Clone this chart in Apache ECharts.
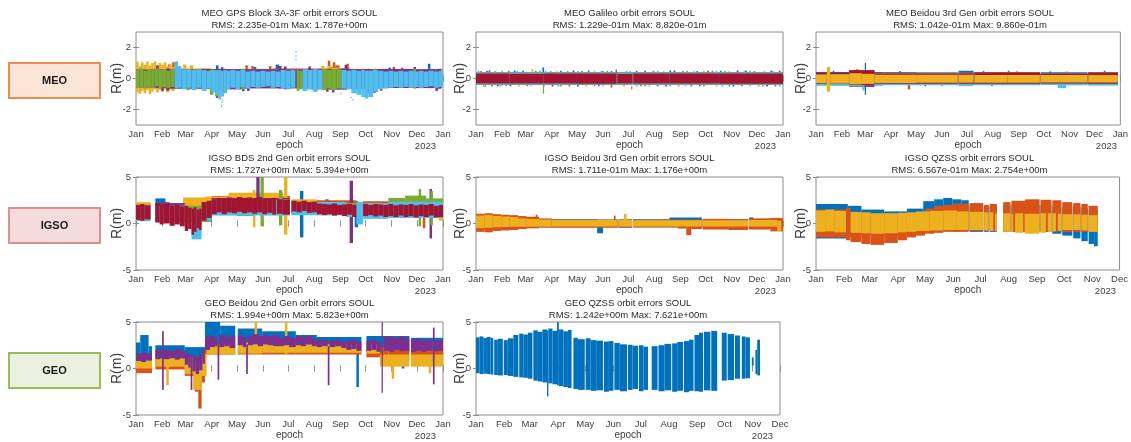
<!DOCTYPE html>
<html><head><meta charset="utf-8">
<script src="https://cdn.jsdelivr.net/npm/echarts@6/dist/echarts.min.js"></script>
<style>html,body{margin:0;padding:0;background:#fff}#c{width:1131px;height:442px}</style>
</head><body><div id="c"></div>
<script>
// ---- tick labels / categories ----
const monthStarts = [0,31,59,90,120,151,181,212,243,273,304,334,365];
const monthLabels = ['Jan','Feb','Mar','Apr','May','Jun','Jul','Aug','Sep','Oct','Nov','Dec','Jan'];
const yearLabel = '2023';
const yName = 'R(m)';
const groupLabels = ['MEO','IGSO','GEO'];
const titles = ['MEO GPS Block 3A-3F orbit errors SOUL','MEO Galileo orbit errors SOUL','MEO Beidou 3rd Gen orbit errors SOUL',
  'IGSO BDS 2nd Gen orbit errors SOUL','IGSO Beidou 3rd Gen orbit errors SOUL','IGSO QZSS orbit errors SOUL',
  'GEO Beidou 2nd Gen orbit errors SOUL','GEO QZSS orbit errors SOUL'];
const rmsLines = ['RMS: 2.235e-01m Max: 1.787e+00m','RMS: 1.229e-01m Max: 8.820e-01m','RMS: 1.042e-01m Max: 9.860e-01m',
  'RMS: 1.727e+00m Max: 5.394e+00m','RMS: 1.711e-01m Max: 1.176e+00m','RMS: 6.567e-01m Max: 2.754e+00m',
  'RMS: 1.994e+00m Max: 5.823e+00m','RMS: 1.242e+00m Max: 7.621e+00m'];

// ---- data: [startDay, endDay, low(m), high(m)] envelope segments, one array per satellite colour ----
// MEO GPS Block 3A-3F
const gps_blue = [[0,46,-0.5,0.55],[46,95,-0.6,0.6],[95,98,-0.5,0.85],[98,140,-0.6,0.58],[140,143,-0.5,0.75],[143,166,-0.6,0.6],[166,170,-0.5,0.9],[170,230,-0.6,0.6],[230,270,-0.65,0.62],[270,300,-0.6,0.58],[300,303,-0.5,0.7],[303,347,-0.6,0.6],[347,350,-0.5,0.95],[350,365,-0.6,0.62]];
const gps_orange = [[0,38,-0.55,0.6],[38,41,-0.6,0.9],[41,43,-0.55,0.65],[43,46,-0.55,1.05],[46,50,-0.6,0.75],[50,130,-0.62,0.62],[130,133,-0.6,0.85],[133,137,-0.6,0.62],[137,140,-0.6,0.8],[140,158,-0.6,0.62],[158,161,-0.6,0.8],[161,228,-0.62,0.64],[228,231,-0.62,1.15],[231,234,-0.6,0.75],[234,237,-0.65,1.05],[237,242,-0.6,0.85],[242,250,-0.6,0.66],[250,253,-0.6,0.95],[253,284,-0.62,0.62],[284,287,-0.85,0.62],[287,290,-0.62,0.6],[290,293,-0.8,0.62],[293,305,-0.6,0.6],[305,308,-0.6,0.75],[308,315,-0.6,0.62],[315,318,-0.6,0.7],[318,325,-0.6,0.62],[325,365,-0.58,0.62]];
const gps_yellow = [[0,3,-0.9,1.1],[3,6,-1.0,0.8],[6,9,-0.8,1.05],[9,12,-0.95,0.9],[12,15,-0.75,1.1],[15,18,-1.0,0.85],[18,21,-0.85,1.0],[21,24,-0.7,1.1],[24,27,-0.9,0.8],[27,30,-0.75,1.0],[30,33,-0.85,0.9],[33,36,-0.7,1.05],[36,39,-0.9,0.8],[39,42,-0.65,0.95],[42,46,-0.8,0.75],[46,52,-0.65,0.8],[52,56,-0.6,0.66],[56,60,-0.65,0.9],[60,64,-0.6,0.66],[64,68,-0.68,0.85],[68,72,-0.6,0.64],[72,90,-0.65,0.66],[90,150,-0.62,0.6],[150,220,-0.62,0.62],[220,224,-0.65,0.8],[224,228,-0.6,0.66],[228,232,-0.68,0.82],[232,242,-0.62,0.7],[242,365,-0.62,0.6]];
const gps_purple = [[0,24,-0.58,0.58],[24,27,-0.62,0.85],[27,30,-0.58,0.58],[30,33,-0.8,0.6],[33,36,-0.6,0.58],[36,40,-0.78,0.65],[40,95,-0.66,0.62],[95,98,-1.25,0.65],[98,101,-0.8,0.62],[101,104,-1.15,0.72],[104,108,-0.9,0.62],[108,126,-0.7,0.6],[126,129,-0.82,0.62],[129,132,-0.66,0.6],[132,135,-0.8,0.6],[135,170,-0.64,0.6],[170,173,-0.66,0.82],[173,176,-0.64,0.62],[176,179,-0.7,0.78],[179,205,-0.64,0.6],[205,208,-0.64,0.78],[208,226,-0.7,0.6],[226,229,-0.85,0.6],[229,233,-0.72,0.62],[233,236,-0.9,0.6],[236,248,-0.72,0.62],[248,251,-0.72,0.88],[251,254,-0.66,0.66],[254,275,-0.66,0.6],[275,278,-0.95,0.62],[278,282,-0.72,0.6],[282,285,-0.92,0.62],[285,330,-0.62,0.62],[330,333,-0.62,0.75],[333,356,-0.62,0.6],[356,359,-0.8,0.6],[359,363,-0.66,0.62]];
const gps_green = [[0,4,-0.6,0.55],[4,9,-0.55,0.65],[9,13,-0.65,0.5],[13,18,-0.55,0.6],[18,22,-0.6,0.55],[22,27,-0.5,0.65],[27,31,-0.65,0.55],[31,36,-0.55,0.6],[36,41,-0.6,0.5],[41,46,-0.55,0.6],[60,64,-0.75,0.6],[68,72,-0.7,0.62],[88,92,-1.05,0.58],[94,98,-1.15,0.55],[125,129,-0.72,0.62],[191,194,-0.8,0.55],[194,198,-0.7,0.5],[222,227,-0.75,0.62],[227,232,-0.65,0.55],[232,238,-0.75,0.62],[238,244,-0.65,0.6],[282,286,-0.7,0.6],[330,333,-0.65,0.62]];
const gps_lblue = [[46,50,-0.65,1.1],[50,54,-0.6,0.8],[54,60,-0.7,0.6],[60,66,-0.6,0.6],[66,72,-0.75,0.55],[72,78,-0.6,0.6],[78,84,-0.8,0.55],[84,90,-0.65,0.5],[90,94,-0.9,0.55],[94,98,-1.05,0.5],[98,101,-1.35,0.55],[101,104,-1.15,0.5],[104,108,-0.95,0.55],[108,112,-0.7,0.5],[112,118,-0.6,0.55],[118,124,-0.7,0.5],[124,130,-0.55,0.55],[130,136,-0.65,0.45],[136,142,-0.55,0.5],[142,148,-0.6,0.45],[148,154,-0.55,0.5],[154,160,-0.5,0.45],[160,166,-0.6,0.5],[166,172,-0.55,0.45],[172,178,-0.65,0.55],[178,184,-0.7,0.5],[184,189.5,-0.6,0.55],[198,204,-0.8,0.6],[204,210,-0.7,0.55],[210,216,-0.85,0.6],[216,222,-0.7,0.55],[244,250,-0.65,0.55],[250,256,-0.7,0.5],[256,262,-0.95,0.55],[262,268,-1.05,0.5],[268,272,-1.2,0.55],[272,276,-1.3,0.5],[276,282,-1.2,0.5],[282,288,-0.85,0.55],[288,294,-0.7,0.5],[294,300,-0.65,0.45],[300,306,-0.6,0.5],[306,312,-0.55,0.45],[312,318,-0.6,0.5],[318,324,-0.55,0.45],[324,330,-0.6,0.5],[330,336,-0.55,0.45],[336,342,-0.6,0.5],[342,348,-0.55,0.45],[348,354,-0.5,0.5],[354,360,-0.6,0.45],[360,365,-0.55,0.5],
  [101,102,-1.82,-1.72],[101.5,102.5,-1.58,-1.48],[102,103,-1.42,-1.34],[189.5,190.5,1.66,1.76],[189.5,190.5,1.42,1.5],[189.5,190.5,1.2,1.28],[243,244,-1.0,-0.92],[255,256,-1.25,-1.17],[257,258,-1.4,-1.32]];
// MEO Galileo
const gal_blue = [[0,167,-0.38,0.39],[168,186,-0.38,0.39],[187,365,-0.38,0.39],[12,14,-0.38,0.5],[45,47,-0.38,0.52],[70,72,-0.38,0.48],[79,81,-0.3,0.72],[100,102,-0.38,0.5],[133,135,-0.38,0.52],[160,162,-0.38,0.48],[200,202,-0.38,0.5],[230,232,-0.38,0.52],[262,264,-0.38,0.48],[290,292,-0.38,0.5],[320,322,-0.38,0.52],[350,352,-0.38,0.5],[25,27,-0.5,0.39],[120,122,-0.52,0.39],[215,217,-0.5,0.39],[305,307,-0.52,0.39]];
const gal_orange = [[0,167,-0.38,0.38],[168,186,-0.38,0.38],[187,365,-0.38,0.38],[5,7,-0.38,0.48],[38,40,-0.38,0.5],[88,90,-0.38,0.47],[125,127,-0.38,0.5],[150,152,-0.38,0.48],[210,212,-0.38,0.5],[245,247,-0.38,0.48],[280,282,-0.38,0.5],[330,332,-0.38,0.48],[18,20,-0.52,0.38],[60,62,-0.5,0.38],[110,112,-0.52,0.38],[160,162,-0.58,0.38],[195,197,-0.5,0.38],[255,257,-0.52,0.38],[315,317,-0.5,0.38],[355,357,-0.52,0.38],[184.5,185.5,-0.7,-0.5]];
const gal_yellow = [[0,167,-0.39,0.38],[168,186,-0.39,0.38],[187,365,-0.39,0.38],[30,32,-0.39,0.5],[66,68,-0.4,0.62],[95,97,-0.39,0.48],[140,142,-0.39,0.5],[222,224,-0.39,0.48],[270,272,-0.39,0.5],[300,302,-0.39,0.48],[342,344,-0.39,0.5],[8,10,-0.54,0.38],[50,52,-0.52,0.38],[80,82,-0.54,0.38],[130,132,-0.52,0.38],[175,177,-0.54,0.38],[205,207,-0.52,0.38],[240,242,-0.54,0.38],[285,287,-0.52,0.38],[335,337,-0.54,0.38]];
const gal_purple = [[0,167,-0.38,0.39],[168,186,-0.38,0.39],[187,365,-0.38,0.39],[15,17,-0.38,0.52],[55,57,-0.38,0.5],[115,117,-0.38,0.52],[166,167,0.3,0.58],[190,192,-0.38,0.5],[235,237,-0.38,0.52],[275,277,-0.38,0.5],[310,312,-0.38,0.52],[360,362,-0.38,0.5],[40,42,-0.5,0.39],[90,92,-0.52,0.39],[145,147,-0.5,0.39],[225,227,-0.52,0.39],[265,267,-0.5,0.39],[345,347,-0.52,0.39]];
const gal_green = [[0,79,-0.38,0.38],[81,167,-0.38,0.38],[168,186,-0.38,0.38],[187,365,-0.38,0.38],[22,24,-0.38,0.48],[75,77,-0.38,0.5],[79.5,81,-0.98,0.3],[108,110,-0.38,0.48],[155,157,-0.38,0.5],[178,180,-0.38,0.48],[250,252,-0.38,0.5],[295,297,-0.38,0.48],[325,327,-0.38,0.5],[10,12,-0.52,0.38],[35,37,-0.5,0.38],[100,102,-0.52,0.38],[140,142,-0.5,0.38],[200,202,-0.52,0.38],[230,232,-0.5,0.38],[270,272,-0.52,0.38],[300,302,-0.5,0.38],[340,342,-0.52,0.38]];
const gal_lblue = [[0,167,-0.39,0.39],[168,186,-0.39,0.39],[187,365,-0.39,0.39],[2,4,-0.39,0.5],[48,50,-0.39,0.48],[82,84,-0.39,0.5],[120,122,-0.39,0.48],[148,150,-0.39,0.5],[182,184,-0.39,0.48],[215,217,-0.39,0.5],[258,260,-0.39,0.48],[285,287,-0.39,0.5],[318,320,-0.39,0.48],[352,354,-0.39,0.5],[28,30,-0.52,0.39],[64,66,-0.5,0.39],[97,99,-0.52,0.39],[150,152,-0.5,0.39],[190,192,-0.52,0.39],[248,250,-0.5,0.39],[292,294,-0.52,0.39],[325,327,-0.5,0.39],[360,362,-0.52,0.39]];
const gal_dred = [[0,40,-0.32,0.32],[40,80,-0.33,0.31],[80,120,-0.32,0.33],[120,167,-0.34,0.32],[168,186,-0.32,0.3],[187,230,-0.33,0.32],[230,290,-0.32,0.32],[290,365,-0.34,0.32]];
// MEO Beidou 3rd Gen
const bd3m_blue = [[0,40,-0.4,0.42],[40,56,-0.5,0.55],[56,58,-0.7,0.4],[58.5,60,-1.05,1.0],[60,80,-0.45,0.42],[80,120,-0.4,0.4],[120,170,-0.36,0.38],[171,189,-0.4,0.5],[190,268.5,-0.38,0.42],[269.5,325.5,-0.36,0.4],[326.5,362,-0.38,0.42],[20,22,-0.4,0.5],[100,102,-0.4,0.48],[200,202,-0.4,0.48],[230,232,-0.4,0.5],[280,282,-0.4,0.46],[345,347,-0.4,0.5]];
const bd3m_orange = [[0,40,-0.42,0.36],[40,70,-0.45,0.55],[70,110,-0.4,0.38],[110,113,-0.7,0.3],[113,170,-0.38,0.36],[171,189,-0.36,0.4],[190,268.5,-0.37,0.42],[269.5,325.5,-0.38,0.36],[326.5,362,-0.36,0.4],[48,51,-0.4,0.6],[240,242,-0.38,0.47],[300,302,-0.38,0.45]];
const bd3m_purple = [[0,40,-0.38,0.4],[40,70,-0.55,0.5],[70,170,-0.4,0.37],[171,189,-0.4,0.36],[190,268.5,-0.42,0.38],[269.5,325.5,-0.38,0.36],[326.5,362,-0.42,0.36],[130,132,-0.5,0.36],[210,212,-0.48,0.36]];
const bd3m_green = [[0,60,-0.44,0.36],[60,170,-0.4,0.34],[171,189,-0.36,0.34],[190,268.5,-0.36,0.35],[269.5,325.5,-0.36,0.33],[326.5,362,-0.38,0.34],[150,152,-0.48,0.34]];
const bd3m_lblue = [[0,40,-0.46,0.34],[40,56,-0.52,0.42],[56,58,-0.78,0.3],[58,170,-0.43,0.33],[171,189,-0.48,0.34],[190,268.5,-0.44,0.33],[269.5,290,-0.42,0.34],[290,300,-0.62,0.32],[300,325.5,-0.44,0.33],[326.5,362,-0.46,0.34]];
const bd3m_dred = [[0,40,-0.34,0.36],[40,70,-0.42,0.52],[70,170,-0.34,0.32],[171,189,-0.34,0.33],[190,268.5,-0.34,0.35],[269.5,325.5,-0.33,0.33],[326.5,362,-0.34,0.35]];
const bd3m_yellow = [[0,13,-0.3,0.26],[13,17,-0.85,0.75],[17,40,-0.32,0.28],[40,55,-0.38,0.34],[55,70,-0.35,0.3],[70,120,-0.29,0.25],[120,170,-0.28,0.24],[171,189,-0.27,0.24],[190,230,-0.28,0.22],[230,268.5,-0.27,0.23],[269.5,325.5,-0.26,0.22],[326.5,362,-0.26,0.22]];
// IGSO BDS 2nd Gen
const bds2i_blue = [[0,17,0.4,2.2],[23,35,0.3,2.7],[35,90,0.2,2.1],[90,183,1.1,2.5],[185,262,1.0,2.4],[195,199,-1.5,3.5],[225,229,1.0,2.6],[260,264,-0.4,2.4],[270,365,0.8,2.3],[310,314,1.0,2.6]];
const bds2i_orange = [[0,17,0.4,2.2],[23,90,0.2,2.2],[90,183,1.1,2.95],[185,262,1.0,2.5],[270,365,0.8,2.4],[341,344,-0.5,1.5]];
const bds2i_yellow = [[0,17,0.4,2.3],[23,56,0.3,2.2],[56,82,0.3,2.8],[82,110,1.0,2.9],[110,175,1.1,3.3],[139,142,-0.4,3.6],[176,180,-1.2,5.2],[185,215,1.1,2.6],[215,300,0.9,2.2],[300,360,0.8,2.3],[360,365,0.3,1.9]];
const bds2i_purple = [[0,17,0.5,2.0],[23,58,0.3,2.2],[30,40,0.5,2.3],[68,74,-1.6,1.5],[90,183,1.1,2.75],[143,147,1.5,5.2],[185,250,1.1,2.3],[254,258,-2.1,4.6],[270,365,0.9,2.1],[349,352,-1.6,3.7]];
const bds2i_green = [[0,17,0.4,1.9],[23,90,0.2,1.9],[90,120,0.9,2.6],[120,140,0.8,2.7],[148,152,-0.3,5.2],[152,183,0.9,2.6],[170,174,-0.2,3.6],[185,250,1.0,2.2],[250,300,0.9,2.2],[300,320,1.0,2.75],[320,345,1.1,3.0],[336,339,-0.3,3.7],[345,365,1.0,2.7],[350,353,-0.2,3.5]];
const bds2i_lblue = [[0,17,0.25,1.9],[23,58,0.2,1.9],[66,78,-1.7,1.5],[78,90,0.3,2.2],[90,183,0.85,2.5],[185,250,0.9,2.3],[250,262,0.7,2.0],[262,270,-0.1,2.3],[270,300,0.5,2.2],[300,365,0.6,2.35]];
const bds2i_dred = [[0,5,0.4,2.0],[5,10,0.3,2.1],[10,17,0.45,1.9],[23,28,0.1,2.2],[28,33,-0.1,2.0],[33,40,0.0,2.1],[40,46,-0.25,1.9],[46,52,-0.1,2.0],[52,58,-0.3,1.85],[58,62,-0.8,1.9],[62,66,-0.6,1.7],[66,69,-1.2,1.6],[69,72,-0.9,1.75],[72,75,-0.5,1.5],[75,78,-0.7,1.6],[78,84,0.3,2.3],[84,90,0.6,2.45],[90,96,1.0,2.6],[96,102,1.2,2.75],[102,108,1.0,2.7],[108,114,1.2,2.8],[114,120,1.1,2.7],[120,126,1.25,2.85],[126,132,1.1,2.75],[132,138,1.2,2.8],[138,144,1.05,2.7],[144,150,1.2,2.85],[150,156,1.0,2.7],[156,162,1.15,2.65],[162,166.5,0.95,2.75],[167.5,174,1.05,2.6],[174,183,0.95,2.55],[185,191,1.3,2.45],[191,197,1.2,2.35],[197,203,1.35,2.45],[203,209,1.15,2.3],[209,215,1.2,2.35],[215,221,1.0,2.15],[221,227,0.9,2.1],[227,233,1.0,2.05],[233,239,0.85,2.15],[239,245,0.95,2.0],[245,251,0.8,2.05],[251,257,0.95,2.1],[257,262,0.7,2.0],[270,276,0.8,2.1],[276,282,0.9,2.0],[282,288,0.75,2.1],[288,294,0.85,2.05],[294,300,0.7,2.0],[300,306,0.8,2.1],[306,312,0.7,1.95],[312,318,0.85,2.05],[318,324,0.7,2.0],[324,330,0.8,2.1],[330,336,0.65,1.95],[336,342,0.8,2.05],[342,348,0.7,2.0],[348,354,0.85,2.1],[354,360,0.65,1.9],[360,365,0.7,2.0]];
// IGSO Beidou 3rd Gen
const bd3i_blue = [[0,60,-0.6,0.7],[60,144,-0.4,0.45],[144,151,-1.05,0.4],[151,168.5,-0.4,0.42],[169.5,185.5,-0.45,0.45],[186.5,230,-0.4,0.45],[230,268.5,-0.4,0.65],[269.5,323.5,-0.45,0.45],[324.5,330,-0.35,0.65],[330,365,-0.55,0.5]];
const bd3i_orange = [[0,10,-0.9,1.05],[10,20,-0.95,1.1],[20,30,-0.8,1.0],[30,40,-0.75,0.95],[40,50,-0.7,0.9],[50,60,-0.6,0.8],[60,75,-0.52,0.73],[71,73,-0.3,0.95],[75,90,-0.45,0.55],[90,168.5,-0.45,0.42],[164,166,-0.3,0.85],[169.5,185.5,-0.45,0.4],[186.5,240,-0.42,0.4],[240,250,-0.55,0.42],[250,256,-1.25,0.4],[256,268.5,-0.6,0.42],[269.5,300,-0.65,0.5],[300,323.5,-0.7,0.45],[324.5,350,-0.65,0.55],[350,365,-0.85,0.6]];
const bd3i_yellow = [[0,10,-0.5,0.85],[10,20,-0.45,0.9],[20,30,-0.4,0.8],[30,40,-0.38,0.75],[40,50,-0.35,0.7],[50,60,-0.35,0.55],[60,75,-0.34,0.48],[75,90,-0.34,0.42],[90,168.5,-0.33,0.38],[169.5,185.5,-0.33,0.38],[176,179,-0.2,1.05],[186.5,268.5,-0.33,0.36],[269.5,323.5,-0.33,0.36],[324.5,358,-0.33,0.38],[358,363,-0.8,0.3]];
// IGSO QZSS
const qzi_blue = [[0,35,-1.6,2.1],[35,50,-1.4,1.9],[50,75,-1.2,1.5],[75,100,-1.2,1.3],[100,118,-1.0,1.6],[118,130,-0.9,2.4],[130,140,-0.95,2.6],[140,150,-0.8,2.75],[150,160,-0.85,2.6],[160,168,-0.8,2.5],[169,184,-0.9,1.9],[185,190,-0.9,1.9],[191,199,-0.9,1.8],[206,214,-0.9,1.9],[215,246,-0.9,2.0],[247,259,-0.9,2.0],[260,270,-1.1,1.8],[271,282,-1.3,1.8],[283,291,-1.6,1.8],[292,299,-1.9,1.7],[300,306,-2.2,1.5],[306,310,-2.45,1.4]];
const qzi_orange = [[0,33,-1.5,1.5],[33,38,-1.8,1.7],[38,50,-2.0,1.2],[50,60,-2.2,1.15],[60,75,-2.3,1.1],[75,90,-2.1,1.05],[90,100,-1.8,1.1],[100,110,-1.5,1.15],[110,120,-1.3,1.2],[120,130,-1.1,1.6],[130,140,-1.0,1.9],[140,150,-0.9,2.0],[150,168,-0.9,2.15],[169,184,-0.8,2.2],[185,190,-0.8,2.0],[191,199,-0.8,2.1],[206,214,-0.8,2.3],[215,230,-0.85,2.45],[230,246,-0.8,2.6],[247,259,-0.8,2.55],[260,270,-0.85,2.5],[271,282,-0.9,2.3],[283,291,-0.9,2.2],[292,299,-0.9,2.1],[300,310,-0.9,1.9]];
const qzi_yellow = [[0,10,-0.9,1.4],[10,20,-0.85,1.5],[20,33,-0.95,1.35],[38,50,-1.0,1.25],[50,60,-1.05,1.2],[60,75,-1.1,1.1],[75,90,-1.05,1.1],[90,100,-0.95,1.15],[100,110,-0.9,1.2],[110,125,-0.8,1.3],[125,140,-0.75,1.35],[140,155,-0.7,1.4],[155,168,-0.7,1.3],[169,184,-0.7,1.25],[185,190,-0.75,1.2],[191,195,-0.8,1.2],[197,199,-0.8,1.1],[206,214,-0.9,1.1],[215,217,-0.9,1.05],[219,228,-1.0,1.1],[229.5,246,-1.1,1.05],[247,253,-1.0,1.1],[255,259,-0.9,1.1],[260,264,-0.85,1.1],[266,270,-0.8,1.05],[271,282,-0.7,1.0],[283,291,-0.7,1.0],[292,299,-0.75,0.95],[300,310,-0.9,0.9]];
// GEO Beidou 2nd Gen
const bd2g_blue = [[0,5,1.0,2.8],[5,15,1.0,3.6],[15,19,1.0,2.4],[23,58,1.0,2.5],[58,82,0.3,2.3],[82,100,2.3,5.2],[100,118,2.4,4.6],[121,150,2.4,4.3],[150,190,2.4,4.0],[190,215,2.4,3.6],[215,268,2.2,3.4],[262,265,-2.0,2.2],[274,325,1.8,3.5],[316,319,0.0,2.0],[327,365,1.8,3.3]];
const bd2g_orange = [[0,19,-0.5,0.8],[23,58,-0.1,0.9],[58,70,-0.8,0.6],[70,74,-2.5,0.3],[74,78,-4.3,-0.5],[78,82,-1.5,0.8],[82,118,1.5,2.2],[121,190,1.5,2.2],[190,268,1.5,2.3],[274,300,1.2,2.3],[300,325,0.9,2.0],[327,365,0.9,2.0]];
const bd2g_yellow = [[0,19,0.0,1.0],[23,58,0.2,1.1],[36,39,-1.8,0.8],[58,68,-0.6,1.2],[68,78,-2.3,0.8],[78,84,-0.8,1.6],[84,118,1.5,2.6],[121,150,1.6,2.8],[141,144,1.6,5.2],[150,190,1.7,2.6],[177,180,1.5,5.2],[190,268,1.7,2.6],[274,290,1.6,2.6],[290,325,0.2,1.5],[304,307,-1.1,1.0],[327,365,0.2,1.5],[348,351,-0.5,1.0]];
const bd2g_purple = [[0,6,0.8,1.6],[6,12,0.7,1.7],[12,19,0.85,1.6],[23,29,1.0,2.05],[29,31,1.1,1.9],[31,33,-2.3,4.0],[33,40,1.0,2.0],[40,46,1.15,1.9],[46,52,0.95,2.1],[52,58,1.1,1.95],[58,62,0.4,1.7],[62,65,0.1,1.5],[65,67,-2.3,1.5],[67,71,-0.3,1.3],[71,75,-0.6,1.2],[75,79,-0.2,1.6],[79,82,0.5,2.0],[82,88,2.0,3.4],[88,94,2.3,3.5],[94,97,2.4,3.3],[97,99,-1.2,2.6],[99,105,2.3,3.6],[105,111,2.4,3.4],[111,118,2.2,3.5],[121,127,2.5,3.6],[127,131,2.3,3.4],[131,133,-0.6,2.6],[133,139,2.5,3.5],[139,145,2.6,3.7],[145,151,2.4,3.5],[151,157,2.6,3.6],[157,163,2.5,3.5],[163,170,2.4,3.6],[170,176,2.4,3.3],[176,182,2.5,3.5],[182,190,2.3,3.3],[190,196,2.5,3.5],[196,202,2.4,3.4],[202,209,2.6,3.5],[209,215,2.4,3.2],[215,221,2.3,3.0],[221,228,2.4,3.1],[228,230,-1.8,2.4],[230,237,2.3,3.0],[237,244,2.4,3.1],[244,250,2.2,2.9],[250,256,2.0,3.0],[256,262,2.1,3.1],[262,268,1.9,2.9],[274,280,1.9,3.0],[280,286,2.0,3.1],[286,291,1.8,2.9],[292,293.5,-2.6,5.2],[295,301,1.9,3.4],[301,307,1.8,3.45],[307,313,2.0,3.3],[313,319,1.85,3.45],[319,325,1.9,3.3],[327,333,1.8,3.1],[333,339,1.9,3.2],[339,345,1.8,3.0],[345,352,1.9,3.1],[353,355,-1.7,4.4],[355,360,1.85,3.0],[360,365,1.9,3.1]];
// GEO QZSS
const qzg_blue = [[0,4,-0.5,3.35],[4,8,-0.6,3.45],[8,12,-0.55,3.3],[12,16,-0.6,3.4],[16,19,-0.65,3.3],[20,24,-0.7,3.1],[24,29.5,-0.75,3.2],[30.5,35,-0.7,3.05],[35,41,-0.8,3.25],[41,46.5,-0.9,3.6],[47.5,52,-0.95,3.75],[52,57,-1.0,3.65],[57,62,-1.1,3.85],[63,68,-1.3,4.1],[68,73,-1.4,3.95],[73,78,-1.5,4.2],[78,79.5,-3.0,4.1],[79.5,84,-1.6,4.3],[84,89,-1.7,4.05],[89,91,-1.8,5.0],[91,96,-1.9,4.2],[96,101,-2.0,4.0],[101,105,-2.1,4.15],[107,112,-2.2,3.3],[112,119.5,-2.3,3.15],[120.5,126,-2.3,3.25],[126,132,-2.4,3.05],[132,139.5,-2.35,3.0],[140.5,146,-2.5,2.9],[146,151,-2.4,2.95],[152,158,-2.3,2.75],[158,166,-2.45,2.6],[167,172,-2.3,2.55],[172,178,-2.2,2.45],[179,184,-2.45,2.5],[184,189,-2.3,2.35],[193,199.5,-2.3,2.4],[200.5,207,-2.45,2.5],[207,214.5,-2.35,2.65],[215.5,221,-2.5,2.7],[221,227.5,-2.4,2.85],[228.5,234,-2.55,2.95],[234,239,-2.4,3.1],[240,245,-2.45,3.6],[245,249.5,-2.5,3.85],[250.5,257.5,-2.35,3.95],[258.5,265,-2.4,4.05],[270,275.5,-1.3,3.85],[276.5,283.5,-1.25,3.7],[284.5,290,-1.1,3.55],[292,296,-1.1,3.45],[296,301,-1.05,3.35],[303,305,0.3,1.2],[307,309,-0.6,2.0],[309,312,-0.75,3.1]];

// ---- styling ----
const COL = {blue:'#0072BD', orange:'#D95319', yellow:'#EDB120', purple:'#7E2F8E', green:'#77AC30', lblue:'#4DBEEE', dred:'#A2142F'};
const FONT = '"Liberation Sans", Arial, Helvetica, sans-serif';
const BOX = '#8c8c8c', TXT = '#404040';

const plots = [
 {box:[136,32,307,93], xmax:365, ymax:3, yt:[-2,0,2], nx:117, ser:[['blue',gps_blue],['orange',gps_orange],['yellow',gps_yellow],['purple',gps_purple],['green',gps_green],['lblue',gps_lblue]]},
 {box:[476,32,307,93], xmax:365, ymax:3, yt:[-2,0,2], nx:460, ser:[['blue',gal_blue],['orange',gal_orange],['yellow',gal_yellow],['purple',gal_purple],['green',gal_green],['lblue',gal_lblue],['dred',gal_dred]]},
 {box:[816,32,308,93], xmax:365, ymax:3, yt:[-2,0,2], nx:801.5, ser:[['blue',bd3m_blue],['orange',bd3m_orange],['purple',bd3m_purple],['green',bd3m_green],['lblue',bd3m_lblue],['dred',bd3m_dred],['yellow',bd3m_yellow]]},
 {box:[136,177,307,93], xmax:365, ymax:5, yt:[-5,0,5], nx:117, ser:[['blue',bds2i_blue],['orange',bds2i_orange],['yellow',bds2i_yellow],['purple',bds2i_purple],['green',bds2i_green],['lblue',bds2i_lblue],['dred',bds2i_dred]]},
 {box:[476,177,307,93], xmax:365, ymax:5, yt:[-5,0,5], nx:460, ser:[['blue',bd3i_blue],['orange',bd3i_orange],['yellow',bd3i_yellow]]},
 {box:[816,177,307,93], xmax:334, ymax:5, yt:[-5,0,5], nx:801.5, ser:[['blue',qzi_blue],['orange',qzi_orange],['yellow',qzi_yellow]]},
 {box:[136,322,307,93], xmax:365, ymax:5, yt:[-5,0,5], nx:117, ser:[['blue',bd2g_blue],['orange',bd2g_orange],['yellow',bd2g_yellow],['purple',bd2g_purple]]},
 {box:[476,322,304,93], xmax:334, ymax:5, yt:[-5,0,5], nx:460, ser:[['blue',qzg_blue]]}
];

function renderSeg(params, api){
  const a = api.coord([api.value(0), api.value(3)]);
  const b = api.coord([api.value(1), api.value(2)]);
  return {type:'rect', shape:{x:a[0], y:a[1], width:Math.max(b[0]-a[0],1.2), height:Math.max(b[1]-a[1],1.2)},
          style:{fill: api.visual('color')}};
}
function txt(x, y, text, font, align, fill, rot){
  return {type:'text', x:x, y:y, rotation:rot||0, style:{text:text, fill:fill, font:font, align:align, verticalAlign:'middle', textAlign:align, textVerticalAlign:'middle'}};
}

const grid=[], xAxis=[], yAxis=[], series=[], graphic=[];
plots.forEach((p,i)=>{
  const [l,t,w,h] = p.box;
  grid.push({left:l, top:t, width:w, height:h, show:true, borderColor:BOX, borderWidth:1, backgroundColor:'#fff'});
  const ticksX = monthStarts.filter(v=>v<=p.xmax);
  const xBase = {type:'value', gridIndex:i, min:0, max:p.xmax, splitLine:{show:false}, axisLine:{show:false},
    axisTick:{inside:true, length:3, customValues:ticksX, lineStyle:{color:BOX}}};
  xAxis.push(Object.assign({}, xBase, {position:'bottom',
    axisLabel:{customValues:ticksX, margin:4, color:TXT, fontSize:9.5, fontFamily:FONT, formatter:v=>monthLabels[monthStarts.indexOf(v)]},
    name:'epoch', nameLocation:'middle', nameGap:15, nameTextStyle:{color:TXT, fontSize:10, fontFamily:FONT}}));
  xAxis.push(Object.assign({}, xBase, {position:'top', axisLabel:{show:false}}));
  const yBase = {type:'value', gridIndex:i, min:-p.ymax, max:p.ymax, splitLine:{show:false}, axisLine:{show:false},
    axisTick:{inside:true, length:3, customValues:p.yt, lineStyle:{color:BOX}}};
  yAxis.push(Object.assign({}, yBase, {position:'left',
    axisLabel:{customValues:p.yt, margin:5, color:TXT, fontSize:9.5, fontFamily:FONT}}));
  yAxis.push(Object.assign({}, yBase, {position:'right', axisLabel:{show:false}}));
  p.ser.forEach(([c,d])=>{
    series.push({type:'custom', xAxisIndex:2*i, yAxisIndex:2*i, data:d, renderItem:renderSeg, clip:true,
      encode:{x:[0,1], y:[2,3]}, itemStyle:{color:COL[c]}, silent:true, animation:false});
  });
  const cx = l + w/2;
  graphic.push(txt(cx, t-19, titles[i], '9.5px '+FONT, 'center', '#2a2a2a'));
  graphic.push(txt(cx, t-7, rmsLines[i], '9.5px '+FONT, 'center', '#2a2a2a'));
  graphic.push(txt(l+w-7, t+h+21, yearLabel, '9.5px '+FONT, 'right', TXT));
  graphic.push(txt(p.nx, t+h/2, yName, '14px '+FONT, 'center', TXT, Math.PI/2));
});

const boxStyles = [
  {y:63, stroke:'#F08C46', fill:'#FBE5D6'},
  {y:208, stroke:'#E08F8F', fill:'#F5DCDC'},
  {y:353, stroke:'#9BBB59', fill:'#EBF1DE'}
];
boxStyles.forEach((b,i)=>{
  graphic.push({type:'rect', shape:{x:9, y:b.y, width:91, height:35}, style:{fill:b.fill, stroke:b.stroke, lineWidth:2}});
  graphic.push(txt(54.5, b.y+17.5, groupLabels[i], 'bold 11px '+FONT, 'center', '#1a1a1a'));
});

const chart = echarts.init(document.getElementById('c'), null, {renderer:'canvas'});
chart.setOption({backgroundColor:'#fff', animation:false, grid, xAxis, yAxis, series, graphic});
</script></body></html>
